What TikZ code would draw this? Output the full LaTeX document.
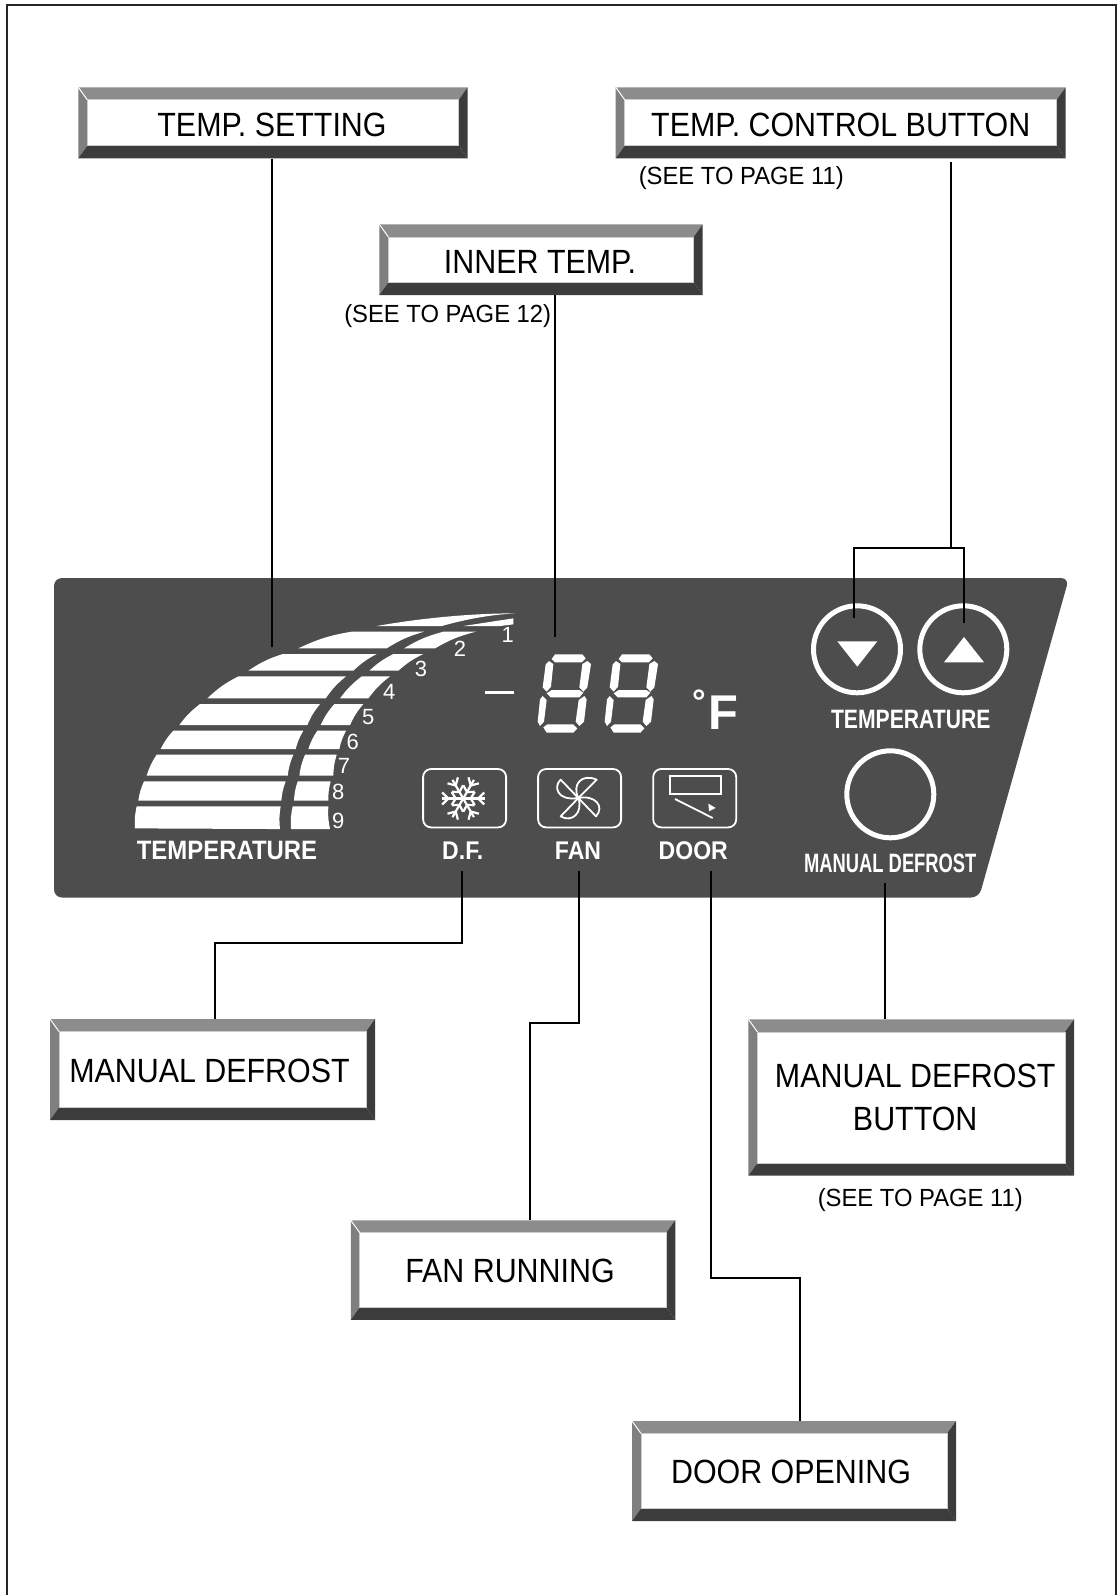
\documentclass[tikz,border=0pt]{standalone}
\usepackage{fontspec}
\usetikzlibrary{calc}
\setmainfont{Liberation Sans}
\newfontfamily\boxfont[FakeStretch=0.905]{Liberation Sans}
\newfontfamily\seefont[FakeStretch=0.96]{Liberation Sans}
\newfontfamily\barfont[FakeStretch=0.90]{Liberation Sans}
\newfontfamily\tempfont[FakeStretch=0.795]{Liberation Sans}
\newfontfamily\mdeffont[FakeStretch=0.69]{Liberation Sans}
\definecolor{panelgray}{HTML}{4D4D4D}
\definecolor{bevtop}{HTML}{8C8C8C}
\definecolor{bevleft}{HTML}{7F7F7F}
\definecolor{bevdark}{HTML}{3C3C3C}
\tikzset{
	bevelbox/.style 2 args={minimum width=#1*0.5pt, minimum height=#2*0.5pt, inner sep=0pt, align=center,
		fill=white, font=\boxfont\fontsize{16.8}{20.5}\selectfont,
		path picture={
			\coordinate (nw) at (path picture bounding box.north west);
			\coordinate (ne) at (path picture bounding box.north east);
			\coordinate (sw) at (path picture bounding box.south west);
			\coordinate (se) at (path picture bounding box.south east);
			\coordinate (inw) at ($(nw)+(4.5pt,-6.25pt)$);
			\coordinate (ine) at ($(ne)+(-4.5pt,-6.25pt)$);
			\coordinate (isw) at ($(sw)+(4.5pt,6.25pt)$);
			\coordinate (ise) at ($(se)+(-4.5pt,6.25pt)$);
			\fill[bevtop] (nw) -- (ne) -- (ine) -- (inw) -- cycle;
			\fill[bevleft] (nw) -- (sw) -- (isw) -- (inw) -- cycle;
			\fill[bevdark] (sw) -- (se) -- (ise) -- (isw) -- cycle;
			\fill[bevdark] (ne) -- (se) -- (ise) -- (ine) -- cycle;
			\draw[gray!40, line width=0.3pt] (inw) rectangle (ise);
			\draw[white, line width=0.5pt] (nw) -- (inw);
		}},
	highbox/.style={execute at begin node={\rule{0pt}{14.2pt}}},
	lowbox/.style={execute at begin node={\rule{0pt}{12.8pt}}},
	seetxt/.style={inner sep=0pt, font=\seefont\fontsize{12.4}{14}\selectfont},
	bartxt/.style={inner sep=0pt, text=white, font=\barfont\bfseries\fontsize{12.8}{14}\selectfont},
	numtxt/.style={inner sep=0pt, text=white, font=\fontsize{11}{13}\selectfont},
	btnring/.style={circle, draw=white, line width=2.5pt, minimum size=43.5pt, inner sep=0pt},
	iconbox/.style={draw=white, line width=0.9pt, rounded corners=4pt, minimum width=41.5pt, minimum height=29.2pt, inner sep=0pt},
	lead/.style={line width=1pt},
}
\newcommand{\barpiece}[4]{\fill[white] (#1) to[bend left=8] (#2) -- (#3) to[bend right=8] (#4) -- cycle;}
\newcommand{\segdigit}[1]{
	\begin{scope}[xshift=#1*0.1667pt]
		\fill[white] (75,43) -- (157,43) -- (167,55) -- (155,67) -- (75,67) -- (65,57) -- cycle;
		\fill[white] (57,63) -- (70,72) -- (63,140) -- (50,155) -- (38,142) -- (47,73) -- cycle;
		\fill[white] (172,63) -- (183,72) -- (172,142) -- (160,155) -- (148,142) -- (157,72) -- cycle;
		\fill[white] (50,160) -- (65,150) -- (148,150) -- (160,158) -- (148,172) -- (62,172) -- cycle;
		\fill[white] (38,168) -- (50,180) -- (42,245) -- (30,258) -- (23,245) -- (30,178) -- cycle;
		\fill[white] (163,168) -- (170,178) -- (162,245) -- (148,258) -- (137,245) -- (146,180) -- cycle;
		\fill[white] (40,262) -- (52,253) -- (130,253) -- (142,265) -- (130,278) -- (50,278) -- cycle;
	\end{scope}
}

\begin{document}
\begin{tikzpicture}[x=0.5pt, y=-0.5pt]
	\useasboundingbox (0,0) rectangle (1117,1595);
	\draw[line width=1pt, black!85] (7,1595) -- (7,5) -- (1116,5) -- (1116,1595);

	% panel
	\fill[panelgray, rounded corners=4pt] (54,578) -- (1069,578) -- (979,897.5) -- (54,897.5) -- cycle;

	% temperature bars
	\begin{scope}[shift={(120,590)}, x=0.1667pt, y=-0.1667pt]
		\fill[white] (770,108) .. controls (900,85) and (1050,70) .. (1185,70) .. controls (1100,75) and (1030,90) .. (965,108) -- cycle;
		\fill[white] (1030,108) -- (1180,85) -- (1180,103) -- (1140,108) -- cycle;
		\barpiece{535,175}{695,125}{912,125}{800,175}
		\barpiece{852,175}{970,125}{1068,125}{945,175}
		\barpiece{385,242}{488,192}{770,192}{700,242}
		\barpiece{748,242}{820,192}{910,192}{835,242}
		\barpiece{262,325}{355,259}{678,259}{617,325}
		\barpiece{660,325}{725,259}{810,259}{745,325}
		\barpiece{178,405}{240,342}{600,342}{562,405}
		\barpiece{602,405}{643,342}{730,342}{690,405}
		\barpiece{122,477}{160,422}{550,422}{527,477}
		\barpiece{565,477}{592,422}{678,422}{658,477}
		\barpiece{80,557}{110,494}{520,494}{503,557}
		\barpiece{538,557}{555,494}{650,494}{640,557}
		\barpiece{55,632}{72,574}{497,574}{484,632}
		\barpiece{522,632}{533,574}{632,574}{625,632}
		\barpiece{45,715}{50,649}{482,649}{480,717}
		\barpiece{513,717}{518,649}{625,649}{630,717}
	\end{scope}
	\foreach \n/\px/\py in {1/507.7/635, 2/460/649.3, 3/421/668.7, 4/389.3/691.7, 5/368.3/716.7, 6/352.7/741.7, 7/344/766, 8/338.3/792.3, 9/338.3/820.7}
		\node[numtxt] (num\n) at (\px,\py) {\n};
	\node[bartxt, font=\barfont\bfseries\fontsize{13.3}{14}\selectfont] (bartemp) at (227,850.7) {TEMPERATURE};

	% display
	\fill[white] (485.3,690.8) rectangle (514,693.5);
	\begin{scope}[shift={(530,640)}, x=0.1667pt, y=-0.1667pt]
		\segdigit{0}
		\segdigit{201}
	\end{scope}
	\node[inner sep=0pt, text=white, font=\bfseries\fontsize{17}{20}\selectfont] (deg) at (699,702) {°};
	\node[inner sep=0pt, text=white, font=\bfseries\fontsize{24.4}{26}\selectfont] (unit) at (723.7,712.3) {F};

	% status icons
	\node[iconbox] (dficon) at (464.6,798.2) {};
	\node[iconbox] (fanicon) at (579.6,798.2) {};
	\node[iconbox] (dooricon) at (694.7,798.2) {};
	\begin{scope}[shift={(463.2,798.5)}]
		\foreach \ang in {30,90,150,210,270,330} {
			\begin{scope}[rotate=\ang]
				\draw[white, line width=1.1pt] (0,0) -- (0,21.5);
				\draw[white, line width=1.1pt] (-6,21) -- (0,15) -- (6,21);
				\draw[white, line width=1.1pt] (-6.5,11.5) -- (0,7.5) -- (6.5,11.5);
			\end{scope}
		}
	\end{scope}
	\begin{scope}[shift={(540,768)}, x=0.1667pt, y=-0.1667pt]
		\draw[white, line width=0.9pt, line join=round] (115,90) -- (62,35) .. controls (40,55) and (50,100) .. (115,90) -- cycle;
		\draw[white, line width=0.9pt, line join=round] (115,90) -- (170,35) .. controls (125,15) and (95,50) .. (115,90) -- cycle;
		\draw[white, line width=0.9pt, line join=round] (115,90) -- (168,145) .. controls (195,115) and (165,80) .. (115,90) -- cycle;
		\draw[white, line width=0.9pt, line join=round] (115,90) -- (62,145) .. controls (95,165) and (130,135) .. (115,90) -- cycle;
		\draw[white, line width=0.9pt] (390,25) rectangle (542,78);
		\draw[white, line width=0.9pt] (405,93) -- (518,150);
		\fill[white] (505,107) -- (527,120) -- (507,130) -- cycle;
	\end{scope}
	\node[bartxt] (dftxt) at (462.7,850.7) {D.F.};
	\node[bartxt] (fantxt) at (578,850.7) {FAN};
	\node[bartxt] (doortxt) at (693.3,850.7) {DOOR};

	% buttons
	\node[btnring] (downbtn) at (857,649.3) {};
	\node[btnring] (upbtn) at (963.3,649.3) {};
	\node[btnring] (defbtn) at (890.3,794.3) {};
	\fill[white] (837.3,641.3) -- (877.3,641.3) -- (857.3,666.7) -- cycle;
	\fill[white] (944,662.3) -- (984,662.3) -- (964,637) -- cycle;
	\node[inner sep=0pt, text=white, font=\tempfont\bfseries\fontsize{13.3}{15}\selectfont] (btntemp) at (910.7,719.3) {TEMPERATURE};
	\node[inner sep=0pt, text=white, font=\mdeffont\bfseries\fontsize{13.3}{15}\selectfont] (btndef) at (890.3,863.3) {MANUAL DEFROST};

	% labels
	\node[bevelbox={389.4}{71}, highbox] (tset) at (273,122.8) {\hspace*{-1pt}TEMP. SETTING};
	\node[bevelbox={323.4}{70.7}, highbox] (itemp) at (541,259.7) {\hspace*{-1pt}INNER TEMP.};
	\node[bevelbox={450}{71}, highbox] (tctrl) at (840.7,122.8) {TEMP. CONTROL BUTTON};
	\node[bevelbox={325.7}{156.4}, execute at begin node={\rule{0pt}{18pt}}] (mbtn) at (911.2,1097.5) {\hspace*{4pt}MANUAL DEFROST\\[1pt]\hspace*{4pt}BUTTON};
	\node[bevelbox={325}{101}, lowbox] (mdef) at (212.5,1069.5) {\hspace*{-3pt}MANUAL DEFROST};
	\node[bevelbox={324.5}{99.5}, lowbox] (frun) at (513,1270) {\hspace*{-3pt}FAN RUNNING};
	\node[bevelbox={324}{100}, lowbox] (dopen) at (794,1471) {\hspace*{-3pt}DOOR OPENING};
	\node[seetxt] (see12) at (447.7,315.7) {(SEE TO PAGE 12)};
	\node[seetxt] (see11a) at (741.3,178.5) {(SEE TO PAGE 11)};
	\node[seetxt] (see11b) at (920.3,1199.7) {(SEE TO PAGE 11)};

	% leaders
	\coordinate (setend) at (271.7,646.7);
	\coordinate (innerend) at (554.6,637.3);
	\coordinate (ctrlj) at (950.7,548);
	\coordinate (downend) at (854,618.3);
	\coordinate (upend) at (964.3,623.3);
	\coordinate (dfend) at (462,871.2);
	\coordinate (fanend) at (579.3,871.2);
	\coordinate (doorend) at (711,871.2);
	\coordinate (defend) at (885.3,883.3);
	\draw[lead] (tset.south -| setend) -- (setend);
	\draw[lead] (itemp.south -| innerend) -- (innerend);
	\draw[lead, shorten <=1.8pt] (tctrl.south -| ctrlj) -- (ctrlj);
	\draw[lead] (downend) -- (downend |- ctrlj) -- (upend |- ctrlj) -- (upend);
	\draw[lead] (dfend) |- (214.7,943) -- (mdef.north -| 214.7,943);
	\draw[lead] (fanend) |- (530,1023.4) -- (frun.north -| 530,1023.4);
	\draw[lead] (doorend) |- (799.6,1277.7) -- (dopen.north -| 799.6,1277.7);
	\draw[lead] (defend) -- (mbtn.north -| defend);
\end{tikzpicture}
\end{document}
